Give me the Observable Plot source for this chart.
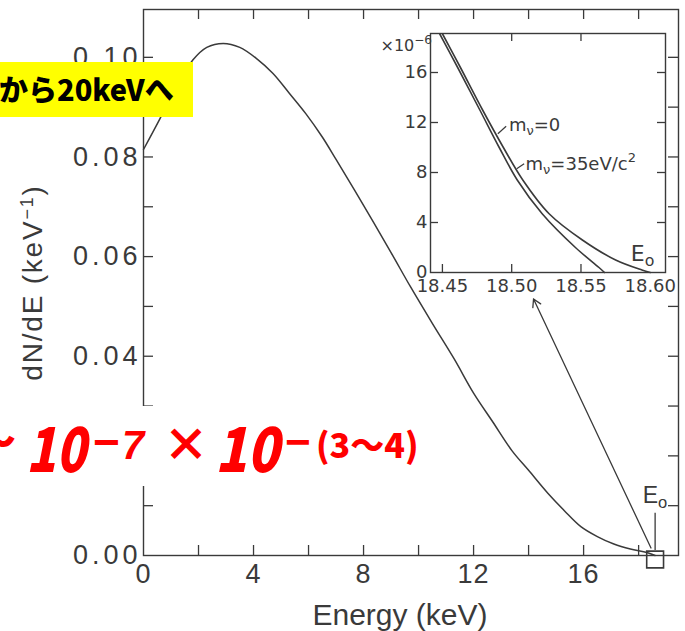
<!DOCTYPE html>
<html><head><meta charset="utf-8">
<script src="https://cdn.jsdelivr.net/npm/d3@7"></script>
<script src="https://cdn.jsdelivr.net/npm/@observablehq/plot@0.6"></script>
<style>
html,body{margin:0;padding:0;background:#fff;}
#wrap{position:relative;width:685px;height:631px;overflow:hidden;background:#fff;}
#main,#inset,#overlay{position:absolute;}
#main{left:0;top:0;}
#inset{left:380px;top:25px;}
#overlay{left:0;top:0;pointer-events:none;}
#main g[aria-label^="y-axis"] text{letter-spacing:4px;}
#main g[aria-label^="x-axis"] text{letter-spacing:1px;}
</style></head>
<body>
<div id="wrap">
  <div id="main"></div>
  <div id="inset"></div>
  <svg id="overlay" width="685" height="631" font-family="'Noto Sans CJK JP', sans-serif">
    <rect x="0" y="62" width="193" height="55" fill="#ffff00"/>
    <text x="-1" y="101" font-size="29" font-weight="900" fill="#000">から20keVへ</text>
    <rect x="0" y="406" width="428" height="80" fill="#fff"/>
    <g fill="#ff0000">
      <text x="-24" y="455" font-size="40" font-weight="900">〜</text>
      <text x="26" y="472" font-size="62" font-weight="900" font-style="italic" textLength="60" lengthAdjust="spacingAndGlyphs">10</text>
      <text x="93" y="458" font-size="46" font-family="'Liberation Sans', Arial, sans-serif" font-weight="bold">−</text>
      <text x="122" y="459" font-size="40" font-family="'Liberation Sans', Arial, sans-serif" font-weight="bold" font-style="italic">7</text>
      <text x="163" y="461" font-size="46" font-weight="900">×</text>
      <text x="215" y="472" font-size="62" font-weight="900" font-style="italic" textLength="64" lengthAdjust="spacingAndGlyphs">10</text>
      <text x="285" y="457" font-size="44" font-family="'Liberation Sans', Arial, sans-serif" font-weight="bold">−</text>
      <text x="316" y="458" font-size="34" font-weight="900">(3〜4)</text>
    </g>
  </svg>
</div>
<script>
// ---- main spectrum ----
const energy = [0, 0.6, 1.2, 1.8, 2.3, 2.9, 3.5, 4.1, 4.7, 5.3, 5.9, 6.5, 7.0, 8.0, 9.0, 9.7, 10.5, 11.3, 12.0, 12.7, 13.4, 14.0, 14.7, 15.3, 15.9, 16.5, 17.1, 17.7, 18.3, 18.6];
const dNdE   = [0.0815, 0.0877, 0.0942, 0.0995, 0.1020, 0.1028, 0.1020, 0.0998, 0.0968, 0.0928, 0.0887, 0.0840, 0.0795, 0.0703, 0.0608, 0.0540, 0.0466, 0.0394, 0.0326, 0.0268, 0.0210, 0.0171, 0.0125, 0.0090, 0.0058, 0.0038, 0.0023, 0.0013, 0.0006, 0.0];

const xTickLabels = [0, 4, 8, 12, 16];
const yTickLabels = [0, 0.02, 0.04, 0.06, 0.08, 0.10];
const xMinor = [2, 4, 6, 8, 10, 12, 14, 16, 18];
const yMinor = [0.01, 0.02, 0.03, 0.04, 0.05, 0.06, 0.07, 0.08, 0.09, 0.10];

const endpointE = 18.6;
const e0Lead = [0.0010, 0.0085];
const e0Label = [18.15, 0.0106];
const arrowStart = [18.45, 0.0015];
const arrowEnd = [14.18, 0.0515];

// ---- inset (near endpoint, ×10^-6) ----
const insetEnergyA = [18.450, 18.463, 18.479, 18.494, 18.508, 18.527, 18.551, 18.575, 18.594, 18.600];
const insetRateA   = [19.1, 16.4, 13.0, 10.0, 7.4, 4.7, 2.6, 1.0, 0.2, 0.0];
const insetEnergyB = [18.448, 18.461, 18.477, 18.491, 18.504, 18.522, 18.546, 18.563, 18.567];
const insetRateB   = [19.1, 16.4, 13.0, 10.0, 7.4, 4.7, 2.0, 0.4, 0.0];
const insetXTicks = [18.45, 18.50, 18.55, 18.60];
const insetYTicks = [0, 4, 8, 12, 16];
const curveLabels = ["m_ν=0", "m_ν=35eV/c^2"];
const curveLabelE = [18.498, 18.510];
const curveLabelR = [11.8, 8.7];
const leaderFromE = [18.490, 18.5036];
const leaderFromR = [11.1, 8.3];
const leaderToE = [18.496, 18.509];
const leaderToR = [11.7, 8.7];
const insetE0Label = [18.586, 0.96];

const richMap = {
  "E_0": {html: 'E<tspan dy="5" font-size="0.72em">o</tspan>'},
  "dN/dE (keV^-1)": {html: 'dN/dE (keV<tspan dy="-9" font-size="18">−1</tspan><tspan dy="9">)</tspan>', ls: "1.8px"},
  "m_ν=0": {html: 'm<tspan dy="4" font-size="13">ν</tspan><tspan dy="-4">=0</tspan>'},
  "m_ν=35eV/c^2": {html: 'm<tspan dy="4" font-size="13">ν</tspan><tspan dy="-4">=35eV/c</tspan><tspan dy="-8" font-size="13">2</tspan>'},
  "×10^-6": {html: '×10<tspan dy="-7" font-size="12">−6</tspan>'}
};
function richify(svg) {
  svg.querySelectorAll("text").forEach(t => {
    const k = t.textContent;
    const r = richMap[k];
    if (r) {
      t.innerHTML = r.html;
      if (r.ls) t.setAttribute("letter-spacing", r.ls);
    }
  });
}

const W = 685, H = 631, ML = 143, MR = 7, MT = 9, MB = 76;
const fw = W - ML - MR, fh = H - MT - MB;
const ink = "#3a3a3a";
const mainCurve = energy.map((e, i) => ({e, v: dNdE[i]}));

const main = Plot.plot({
  width: W, height: H,
  marginLeft: ML, marginRight: MR, marginTop: MT, marginBottom: MB,
  style: {fontFamily: "'Liberation Sans', Arial, sans-serif", fontSize: "27px", color: ink, background: "white"},
  x: {domain: [0, 19.45], ticks: xTickLabels, tickFormat: d => String(d), tickSize: 0, tickPadding: 8, label: null},
  y: {domain: [0, 0.1096], ticks: yTickLabels, tickFormat: d => d.toFixed(2), tickSize: 0, tickPadding: 2, label: null},
  marks: [
    Plot.frame({stroke: ink, strokeWidth: 1.4}),
    Plot.tickY(yMinor, {y: d => d, insetRight: fw - 10, stroke: ink, strokeWidth: 1.3}),
    Plot.tickY(yMinor, {y: d => d, insetLeft: fw - 10, stroke: ink, strokeWidth: 1.3}),
    Plot.tickX(xMinor, {x: d => d, insetTop: fh - 10, stroke: ink, strokeWidth: 1.3}),
    Plot.tickX(xMinor, {x: d => d, insetBottom: fh - 10, stroke: ink, strokeWidth: 1.3}),
    Plot.line(mainCurve, {x: "e", y: "v", curve: "catmull-rom", stroke: ink, strokeWidth: 1.5}),
    Plot.arrow([0], {x1: () => arrowStart[0], y1: () => arrowStart[1], x2: () => arrowEnd[0], y2: () => arrowEnd[1], stroke: ink, strokeWidth: 1.3, headLength: 10}),
    Plot.ruleX([endpointE], {x: d => d, y1: () => e0Lead[0], y2: () => e0Lead[1], stroke: ink, strokeWidth: 1.3}),
    Plot.dot([endpointE], {x: d => d, y: () => 0, symbol: "square", r: 9.5, stroke: ink, strokeWidth: 1.6, fill: "none", dy: 4}),
    Plot.text(["E_0"], {x: () => e0Label[0], y: () => e0Label[1], text: d => d, textAnchor: "start", lineAnchor: "bottom", fontSize: 23}),
    Plot.text(["Energy (keV)"], {frameAnchor: "bottom", dx: -11, dy: 48, lineAnchor: "top", textAnchor: "middle", fontSize: 30, text: d => d}),
    Plot.text(["dN/dE (keV^-1)"], {frameAnchor: "left", dx: -110, rotate: -90, textAnchor: "middle", lineAnchor: "middle", fontSize: 28, text: d => d})
  ]
});
richify(main);
document.getElementById("main").appendChild(main);

const IW = 305, IH = 275, IML = 50, IMR = 20, IMT = 8, IMB = 28;
const ifw = IW - IML - IMR, ifh = IH - IMT - IMB;
const curveA = insetEnergyA.map((e, i) => ({e, r: insetRateA[i]}));
const curveB = insetEnergyB.map((e, i) => ({e, r: insetRateB[i]}));
const leaders = curveLabels.map((s, i) => ({x1: leaderFromE[i], y1: leaderFromR[i], x2: leaderToE[i], y2: leaderToR[i]}));
const labels = curveLabels.map((s, i) => ({s, e: curveLabelE[i], r: curveLabelR[i]}));

const inset = Plot.plot({
  width: IW, height: IH,
  marginLeft: IML, marginRight: IMR, marginTop: IMT, marginBottom: IMB,
  style: {fontFamily: "'DejaVu Sans', sans-serif", fontSize: "18px", color: ink, background: "transparent", overflow: "visible"},
  x: {domain: [18.4414, 18.611], ticks: insetXTicks, tickFormat: d => d.toFixed(2), tickSize: 0, tickPadding: 7, label: null},
  y: {domain: [0, 19.12], ticks: insetYTicks, tickFormat: d => String(d), tickSize: 0, tickPadding: 3, label: null},
  marks: [
    Plot.frame({stroke: ink, strokeWidth: 1.4}),
    Plot.tickY(insetYTicks.filter(d => d > 0), {y: d => d, insetRight: ifw - 8, stroke: ink, strokeWidth: 1.3}),
    Plot.tickY(insetYTicks.filter(d => d > 0), {y: d => d, insetLeft: ifw - 8, stroke: ink, strokeWidth: 1.3}),
    Plot.tickX(insetXTicks.slice(0, 3), {x: d => d, insetTop: ifh - 8, stroke: ink, strokeWidth: 1.3}),
    Plot.tickX(insetXTicks.slice(1, 3), {x: d => d, insetBottom: ifh - 8, stroke: ink, strokeWidth: 1.3}),
    Plot.line(curveA, {x: "e", y: "r", curve: "catmull-rom", stroke: ink, strokeWidth: 1.6}),
    Plot.line(curveB, {x: "e", y: "r", curve: "catmull-rom", stroke: ink, strokeWidth: 1.6}),
    Plot.link(leaders, {x1: "x1", y1: "y1", x2: "x2", y2: "y2", stroke: ink, strokeWidth: 1.2}),
    Plot.text(labels, {x: "e", y: "r", text: "s", textAnchor: "start", fontSize: 18}),
    Plot.text(["×10^-6"], {frameAnchor: "top-left", dx: -50, dy: 6, textAnchor: "start", fontSize: 16, text: d => d}),
    Plot.text(["E_0"], {x: () => insetE0Label[0], y: () => insetE0Label[1], text: d => d, textAnchor: "start", lineAnchor: "bottom", fontSize: 22})
  ]
});
richify(inset);
document.getElementById("inset").appendChild(inset);
</script>
</body></html>
